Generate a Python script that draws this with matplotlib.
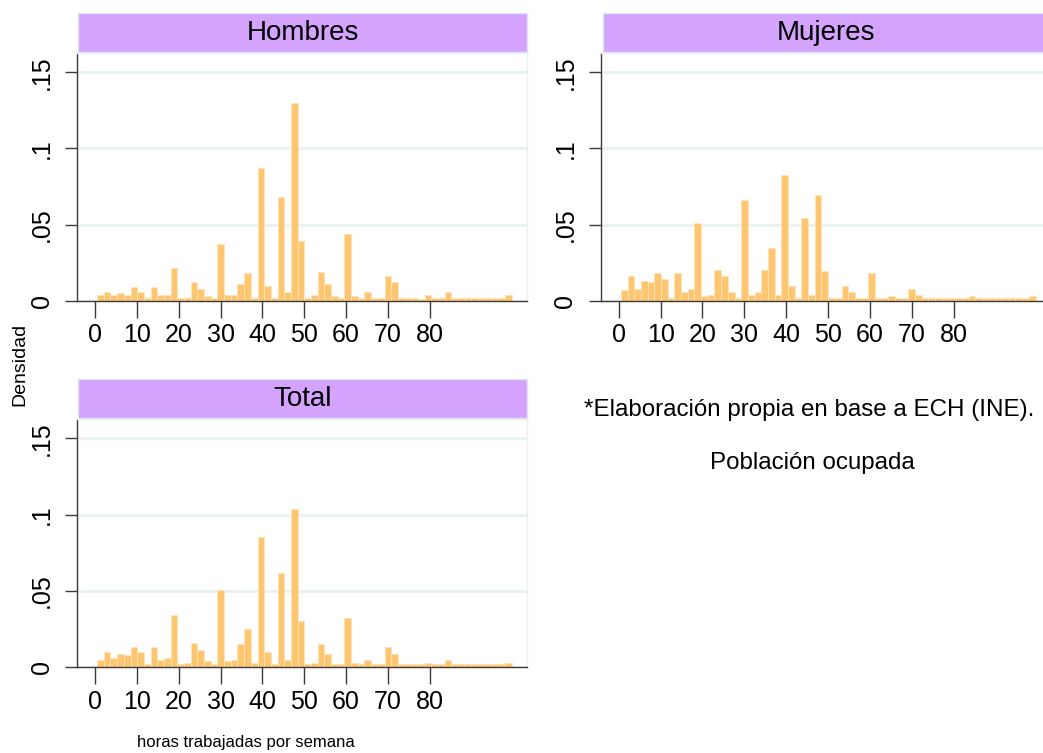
import numpy as np
import matplotlib
matplotlib.use("Agg")
import matplotlib.pyplot as plt

plt.rcParams['font.family'] = ['Liberation Sans', 'DejaVu Sans']

# histogram bins (hours per week), 62 bins from 0.5 to 99.5
bin_start = 0.5
bin_width = 99 / 62

# density, one value per bin
hombres = [0.0037, 0.0059, 0.0037, 0.0048, 0.0037, 0.0088, 0.0059, 0.0015, 0.0088, 0.0037,
           0.0037, 0.0212, 0.0015, 0.0015, 0.0120, 0.0079, 0.0028, 0.0018, 0.0374, 0.0037,
           0.0037, 0.0109, 0.0179, 0.0015, 0.0871, 0.0098, 0.0015, 0.0678, 0.0059, 0.1298,
           0.0394, 0.0015, 0.0037, 0.0190, 0.0109, 0.0028, 0.0018, 0.0435, 0.0028, 0.0018,
           0.0059, 0.0018, 0.0015, 0.0160, 0.0120, 0.0015, 0.0015, 0.0015, 0.0013, 0.0037,
           0.0015, 0.0015, 0.0059, 0.0015, 0.0015, 0.0015, 0.0015, 0.0015, 0.0015, 0.0015,
           0.0015, 0.0037]

mujeres = [0.0068, 0.0161, 0.0080, 0.0131, 0.0121, 0.0180, 0.0141, 0.0020, 0.0180, 0.0059,
           0.0080, 0.0509, 0.0030, 0.0038, 0.0203, 0.0161, 0.0059, 0.0019, 0.0662, 0.0038,
           0.0059, 0.0203, 0.0346, 0.0038, 0.0826, 0.0099, 0.0019, 0.0540, 0.0038, 0.0693,
           0.0193, 0.0019, 0.0019, 0.0099, 0.0059, 0.0019, 0.0019, 0.0180, 0.0019, 0.0019,
           0.0029, 0.0019, 0.0019, 0.0079, 0.0037, 0.0018, 0.0018, 0.0018, 0.0018, 0.0018,
           0.0018, 0.0018, 0.0029, 0.0018, 0.0018, 0.0018, 0.0018, 0.0018, 0.0018, 0.0018,
           0.0018, 0.0029]

total = [0.0050, 0.0101, 0.0059, 0.0090, 0.0079, 0.0131, 0.0101, 0.0020, 0.0131, 0.0050,
         0.0059, 0.0344, 0.0020, 0.0028, 0.0162, 0.0112, 0.0039, 0.0020, 0.0506, 0.0039,
         0.0050, 0.0151, 0.0252, 0.0028, 0.0852, 0.0101, 0.0020, 0.0617, 0.0050, 0.1034,
         0.0304, 0.0020, 0.0028, 0.0151, 0.0090, 0.0020, 0.0020, 0.0324, 0.0028, 0.0020,
         0.0050, 0.0020, 0.0020, 0.0131, 0.0090, 0.0020, 0.0020, 0.0020, 0.0020, 0.0028,
         0.0020, 0.0020, 0.0050, 0.0020, 0.0020, 0.0020, 0.0020, 0.0020, 0.0020, 0.0020,
         0.0020, 0.0028]

x_ticks = [0, 10, 20, 30, 40, 50, 60, 70, 80]
y_ticks = [0, 0.05, 0.1, 0.15]
y_labels = ["0", ".05", ".1", ".15"]

bar_color = "#ffc672"
strip_color = "#d3a3fd"
grid_color = "#e9f1f3"
axis_color = "#3a3a3a"

W, H = 1043, 753
fig = plt.figure(figsize=(W / 100, H / 100), dpi=100)
fig.patch.set_facecolor("white")


def px_axes(x0, y0, x1, y1):
    # pixel box (top-left origin) -> figure fraction
    return [x0 / W, 1 - y1 / H, (x1 - x0) / W, (y1 - y0) / H]


def panel(box, strip, title, values):
    ax = fig.add_axes(px_axes(*box))
    edges = bin_start + bin_width * np.arange(len(values))
    ax.bar(edges, values, width=bin_width, align="edge", color=bar_color,
           edgecolor="#ffe3b8", linewidth=0.6, zorder=2)
    ax.set_xlim(-4.23, 103.2)
    ax.set_ylim(0, 0.1626)
    ax.set_xticks(x_ticks)
    ax.set_yticks(y_ticks)
    ax.set_yticklabels(y_labels, rotation=90, va="center")
    ax.yaxis.grid(True, color=grid_color, linewidth=2, zorder=0)
    ax.tick_params(axis="x", length=12, width=1, color=axis_color, pad=4, labelsize=18)
    ax.tick_params(axis="y", length=9, width=1, color=axis_color, pad=8, labelsize=18)
    for s in ["left", "bottom"]:
        ax.spines[s].set_color(axis_color)
        ax.spines[s].set_linewidth(1)
    for s in ["top", "right"]:
        ax.spines[s].set_color(grid_color)
        ax.spines[s].set_linewidth(1)

    # title strip
    sx = fig.add_axes(px_axes(*strip))
    sx.set_facecolor(strip_color)
    sx.set_xticks([])
    sx.set_yticks([])
    for s in sx.spines.values():
        s.set_color("#dfe7ee")
        s.set_linewidth(1)
    sx.text(0.5, 0.5, title, ha="center", va="center", fontsize=20, transform=sx.transAxes)
    return ax


panel((77.3, 53, 527, 300.7), (78, 12.7, 527, 52.3), "Hombres", hombres)
panel((601, 53, 1051, 300.7), (603, 12.7, 1050, 52.3), "Mujeres", mujeres)
panel((77.3, 419, 527, 667.3), (78, 379.3, 527, 418.3), "Total", total)

fig.text(20 / W, 1 - 364 / H, "Densidad", rotation=90, ha="center", va="center", fontsize=14)
fig.text(246 / W, 1 - 743 / H, "horas trabajadas por semana", ha="center", va="center", fontsize=12)
fig.text(809 / W, 1 - 410 / H, "*Elaboración propia en base a ECH (INE).", ha="center", va="center",
         fontsize=17.4)
fig.text(812 / W, 1 - 463 / H, "Población ocupada", ha="center", va="center", fontsize=17.4)

fig.savefig("out.png", dpi=100)
